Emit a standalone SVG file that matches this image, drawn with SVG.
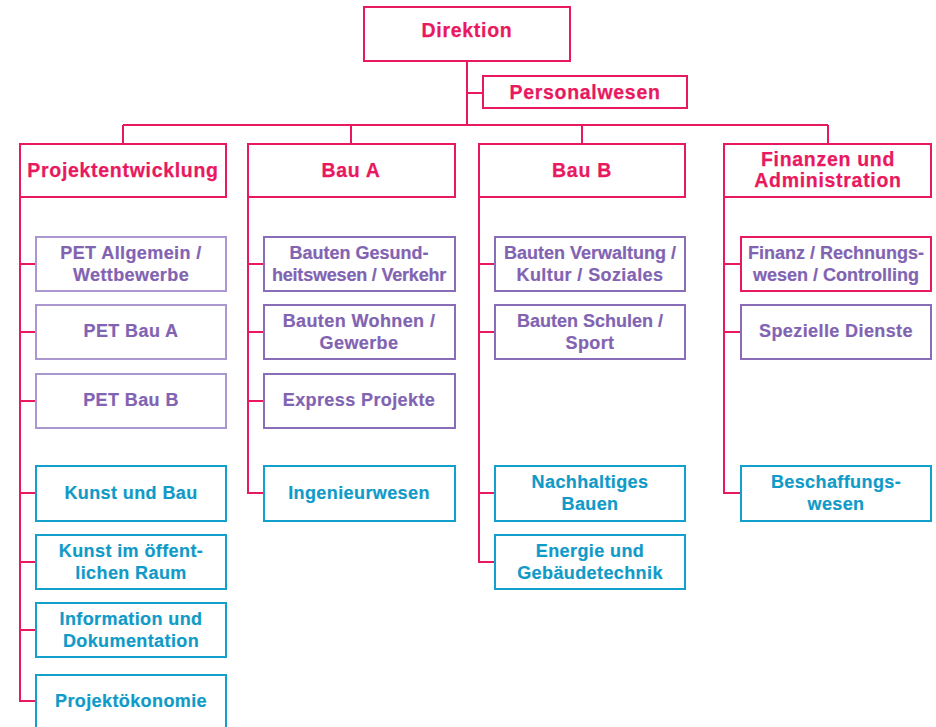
<svg xmlns="http://www.w3.org/2000/svg" width="936" height="727" viewBox="0 0 936 727">
<style>
.bx{fill:#fff;stroke-width:2}
.pk{stroke:#e8195f}
.pl{stroke:#ab97cf}
.pd{stroke:#8a6db8}
.bl{stroke:#12a0cc}
.t{font-family:"Liberation Sans",Arial,sans-serif;font-weight:bold;text-anchor:middle}
.h{font-size:19.5px;letter-spacing:0.7px;fill:#e8195f;stroke:#e8195f;stroke-width:0.25}
.c{font-size:18px;letter-spacing:0.4px;stroke-width:0.2}
.cp{fill:#8163b2;stroke:#8163b2}
.cb{fill:#0f9ac8;stroke:#0f9ac8}
.ln{fill:none;stroke:#e8195f;stroke-width:2}
</style>
<g id="connectors">
<path class="ln" d="M467 61V125M467 93H483M123 125H828M123 125V144M351 125V144M582 125V144M828 125V144"/>
<path class="ln" d="M20 197V701H36M20 264H36M20 332H36M20 401H36M20 493H36M20 562H36M20 630H36"/>
<path class="ln" d="M248 197V493H264M248 264H264M248 332H264M248 401H264"/>
<path class="ln" d="M479 197V562H495M479 264H495M479 332H495M479 493H495"/>
<path class="ln" d="M724 197V493H741M724 264H741M724 332H741"/>
</g>
<g id="direktion"><rect class="bx pk" x="364" y="7" width="206" height="54"/><text class="t h" x="467" y="37">Direktion</text></g>
<g id="personalwesen"><rect class="bx pk" x="483" y="76" width="204" height="32"/><text class="t h" x="585" y="99">Personalwesen</text></g>
<g id="projektentwicklung"><rect class="bx pk" x="20" y="144" width="206" height="53"/><text class="t h" x="123" y="177">Projektentwicklung</text></g>
<g id="bau-a"><rect class="bx pk" x="248" y="144" width="207" height="53"/><text class="t h" x="351" y="177">Bau A</text></g>
<g id="bau-b"><rect class="bx pk" x="479" y="144" width="206" height="53"/><text class="t h" x="582" y="177">Bau B</text></g>
<g id="finanzen"><rect class="bx pk" x="724" y="144" width="207" height="53"/><text class="t h" x="828" y="166">Finanzen und</text><text class="t h" x="828" y="187">Administration</text></g>

<g id="pet-allgemein"><rect class="bx pl" x="36" y="237" width="190" height="54"/><text class="t c cp" x="131" y="259">PET Allgemein /</text><text class="t c cp" x="131" y="281">Wettbewerbe</text></g>
<g id="pet-bau-a"><rect class="bx pl" x="36" y="305" width="190" height="54"/><text class="t c cp" x="131" y="337">PET Bau A</text></g>
<g id="pet-bau-b"><rect class="bx pl" x="36" y="374" width="190" height="54"/><text class="t c cp" x="131" y="406">PET Bau B</text></g>
<g id="kunst-und-bau"><rect class="bx bl" x="36" y="466" width="190" height="55"/><text class="t c cb" x="131" y="499">Kunst und Bau</text></g>
<g id="kunst-oeffentlich"><rect class="bx bl" x="36" y="535" width="190" height="54"/><text class="t c cb" x="131" y="557">Kunst im öffent-</text><text class="t c cb" x="131" y="579">lichen Raum</text></g>
<g id="information"><rect class="bx bl" x="36" y="603" width="190" height="54"/><text class="t c cb" x="131" y="625">Information und</text><text class="t c cb" x="131" y="647">Dokumentation</text></g>
<g id="projektoekonomie"><rect class="bx bl" x="36" y="675" width="190" height="70"/><text class="t c cb" x="131" y="707">Projektökonomie</text></g>

<g id="bauten-gesundheit"><rect class="bx pd" x="264" y="237" width="191" height="54"/><text class="t c cp" x="359" y="259" style="letter-spacing:0">Bauten Gesund-</text><text class="t c cp" x="359" y="281" style="letter-spacing:-0.2px">heitswesen / Verkehr</text></g>
<g id="bauten-wohnen"><rect class="bx pd" x="264" y="305" width="191" height="54"/><text class="t c cp" x="359" y="327">Bauten Wohnen /</text><text class="t c cp" x="359" y="349">Gewerbe</text></g>
<g id="express"><rect class="bx pd" x="264" y="374" width="191" height="54"/><text class="t c cp" x="359" y="406">Express Projekte</text></g>
<g id="ingenieurwesen"><rect class="bx bl" x="264" y="466" width="191" height="55"/><text class="t c cb" x="359" y="499">Ingenieurwesen</text></g>

<g id="bauten-verwaltung"><rect class="bx pd" x="495" y="237" width="190" height="54"/><text class="t c cp" x="590" y="259" style="letter-spacing:0">Bauten Verwaltung /</text><text class="t c cp" x="590" y="281">Kultur / Soziales</text></g>
<g id="bauten-schulen"><rect class="bx pd" x="495" y="305" width="190" height="54"/><text class="t c cp" x="590" y="327" style="letter-spacing:0">Bauten Schulen /</text><text class="t c cp" x="590" y="349">Sport</text></g>
<g id="nachhaltiges"><rect class="bx bl" x="495" y="466" width="190" height="55"/><text class="t c cb" x="590" y="488">Nachhaltiges</text><text class="t c cb" x="590" y="510">Bauen</text></g>
<g id="energie"><rect class="bx bl" x="495" y="535" width="190" height="54"/><text class="t c cb" x="590" y="557">Energie und</text><text class="t c cb" x="590" y="579">Gebäudetechnik</text></g>

<g id="finanz-rechnungswesen"><rect class="bx pk" x="741" y="237" width="190" height="54"/><text class="t c cp" x="836" y="259" style="letter-spacing:0">Finanz / Rechnungs-</text><text class="t c cp" x="836" y="281" style="letter-spacing:0">wesen / Controlling</text></g>
<g id="spezielle-dienste"><rect class="bx pd" x="741" y="305" width="190" height="54"/><text class="t c cp" x="836" y="337">Spezielle Dienste</text></g>
<g id="beschaffungswesen"><rect class="bx bl" x="741" y="466" width="190" height="55"/><text class="t c cb" x="836" y="488">Beschaffungs-</text><text class="t c cb" x="836" y="510">wesen</text></g>
</svg>
